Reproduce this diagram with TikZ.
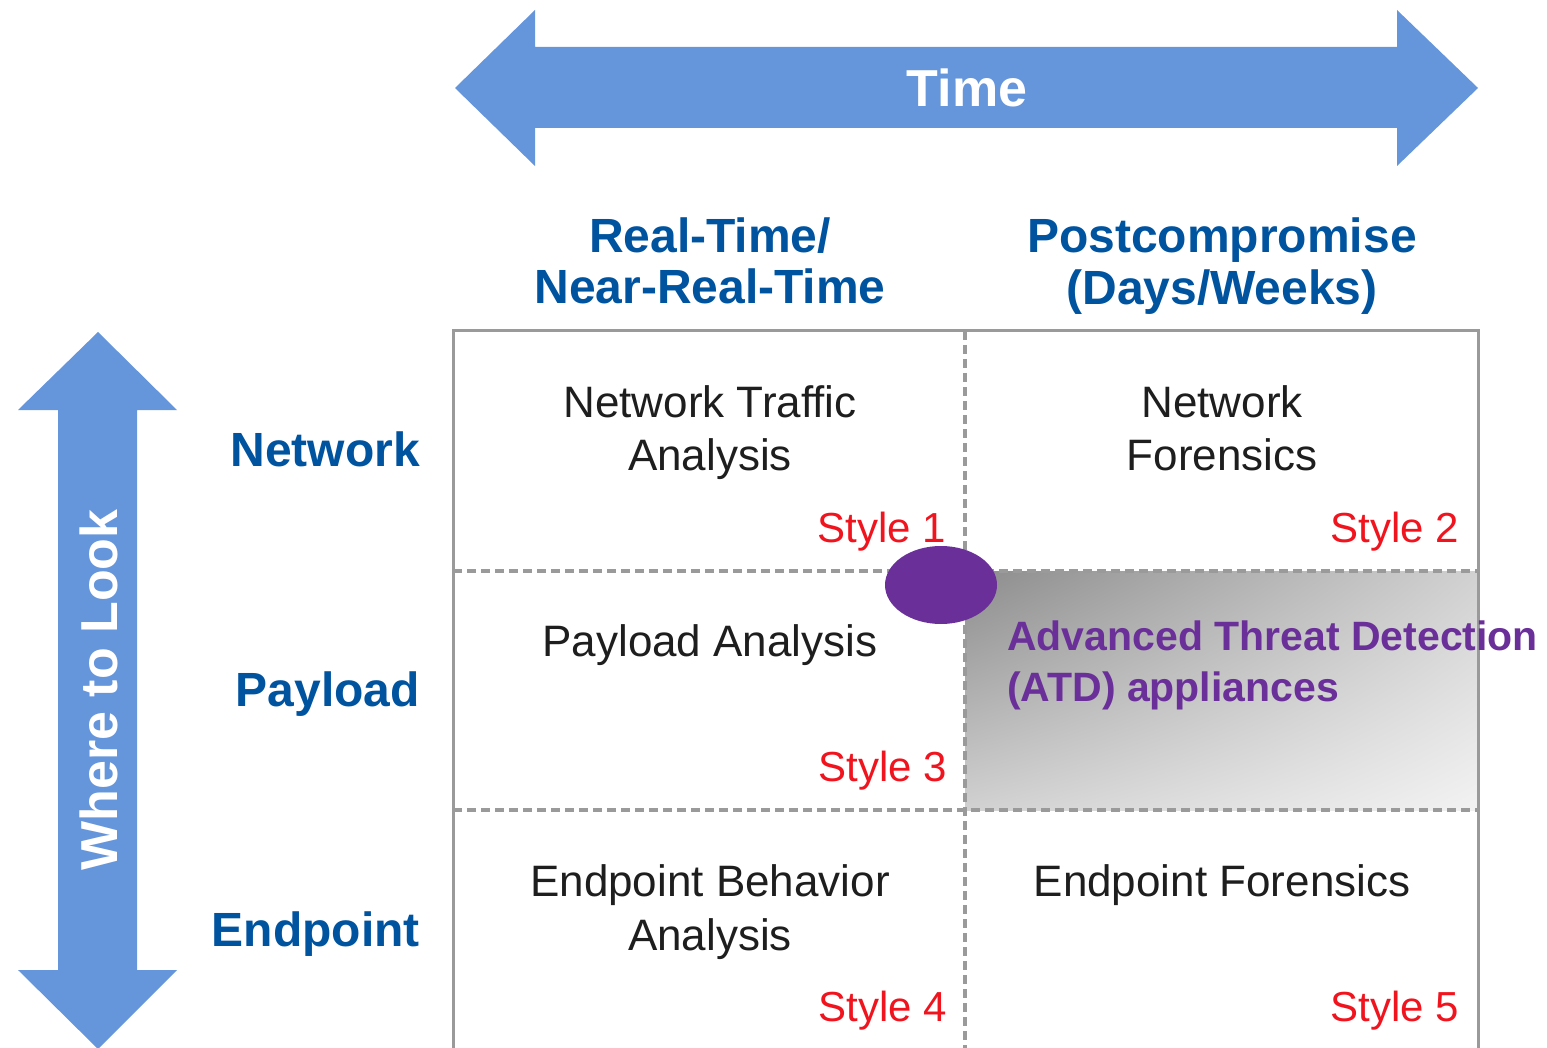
\documentclass[tikz,border=0pt]{standalone}
\usepackage{fontspec}
\setmainfont{Liberation Sans}
\usetikzlibrary{shapes.geometric,shadings}
\definecolor{arrowblue}{HTML}{6595DB}
\definecolor{labelblue}{HTML}{00539F}
\definecolor{stylered}{HTML}{F0141E}
\definecolor{atdpurple}{HTML}{6B2F9A}
\definecolor{celltext}{HTML}{1E1E1E}
\definecolor{gridgray}{HTML}{9A9A9A}
\tikzset{
  axislabel/.style={text=white, font=\fontsize{52}{52}\selectfont\bfseries, inner sep=0pt},
  header/.style={text=labelblue, font=\fontsize{48}{48}\selectfont\bfseries, anchor=base, inner sep=0pt},
  rowlabel/.style={header, anchor=base east},
  celltxt/.style={text=celltext, font=\fontsize{44}{44}\selectfont, anchor=base, inner sep=0pt},
  stylelbl/.style={text=stylered, font=\fontsize{42}{42}\selectfont, anchor=base east, inner sep=0pt},
  atdtxt/.style={text=atdpurple, font=\fontsize{41}{41}\selectfont\bfseries, anchor=base west, inner sep=0pt},
  gridline/.style={draw=gridgray, line width=3pt},
  divider/.style={draw=gridgray, line width=3.5pt, dash pattern=on 9pt off 5pt},
}
\begin{document}
\begin{tikzpicture}[x=1pt,y=-1pt]
\useasboundingbox (0,0) rectangle (1547,1048);

% horizontal "Time" arrow
\fill[arrowblue] (455,88) -- (535,10) -- (535,47) -- (1397,47) -- (1397,10)
  -- (1478,88) -- (1397,166) -- (1397,128) -- (535,128) -- (535,166) -- cycle;
\node[axislabel, anchor=base] (time) at (967,107) {Time};

% vertical "Where to Look" arrow
\fill[arrowblue] (98,332) -- (177,410) -- (137,410) -- (137,970) -- (177,970)
  -- (98,1049) -- (18,970) -- (58,970) -- (58,410) -- (18,410) -- cycle;
\node[axislabel, rotate=90] (where) at (99,690) {Where to Look};

% column headers
\node[header] (rt1) at (710,253) {Real-Time/};
\node[header] (rt2) at (710,304) {Near-Real-Time};
\node[header] (pc1) at (1222,253) {Postcompromise};
\node[header] (pc2) at (1222,305) {(Days/Weeks)};

% row headers
\node[rowlabel] (rnet) at (420,466) {Network};
\node[rowlabel] (rpay) at (420,706) {Payload};
\node[rowlabel] (rend) at (420,946) {Endpoint};

% shaded cell
\shade[upper left=black!45, upper right=black!18, lower left=black!18, lower right=black!5]
  (965,571) rectangle (1478,810);

% grid
\coordinate (gtl) at (453,331);
\coordinate (gtr) at (1478,331);
\coordinate (gbl) at (453,1060);
\coordinate (gbr) at (1478,1060);
\draw[divider] (965,331) -- (965,1060);
\draw[divider] (453,571) -- (1478,571);
\draw[divider] (453,810) -- (1478,810);
\draw[gridline] (gbl) -- (gtl) -- (gtr) -- (gbr);

% cell contents
\node[celltxt] (c11a) at (710,417) {Network Traffic};
\node[celltxt] (c11b) at (710,470) {Analysis};
\node[celltxt] (c12a) at (1222,417) {Network};
\node[celltxt] (c12b) at (1222,470) {Forensics};
\node[celltxt] (c21) at (710,656) {Payload Analysis};
\node[celltxt] (c31a) at (710,896) {Endpoint Behavior};
\node[celltxt] (c31b) at (710,950) {Analysis};
\node[celltxt] (c32) at (1222,896) {Endpoint Forensics};

\node[stylelbl] (s1) at (946,542) {Style 1};
\node[stylelbl] (s2) at (1459,542) {Style 2};
\node[stylelbl] (s3) at (947,781) {Style 3};
\node[stylelbl] (s4) at (947,1021) {Style 4};
\node[stylelbl] (s5) at (1459,1021) {Style 5};

% ATD marker and label
\node[ellipse, fill=atdpurple, minimum width=112pt, minimum height=78pt, inner sep=0pt] (atddot) at (941,585) {};
\node[atdtxt] (atd1) at (1007,650) {Advanced Threat Detection};
\node[atdtxt] (atd2) at (1007,701) {(ATD) appliances};
\end{tikzpicture}
\end{document}
